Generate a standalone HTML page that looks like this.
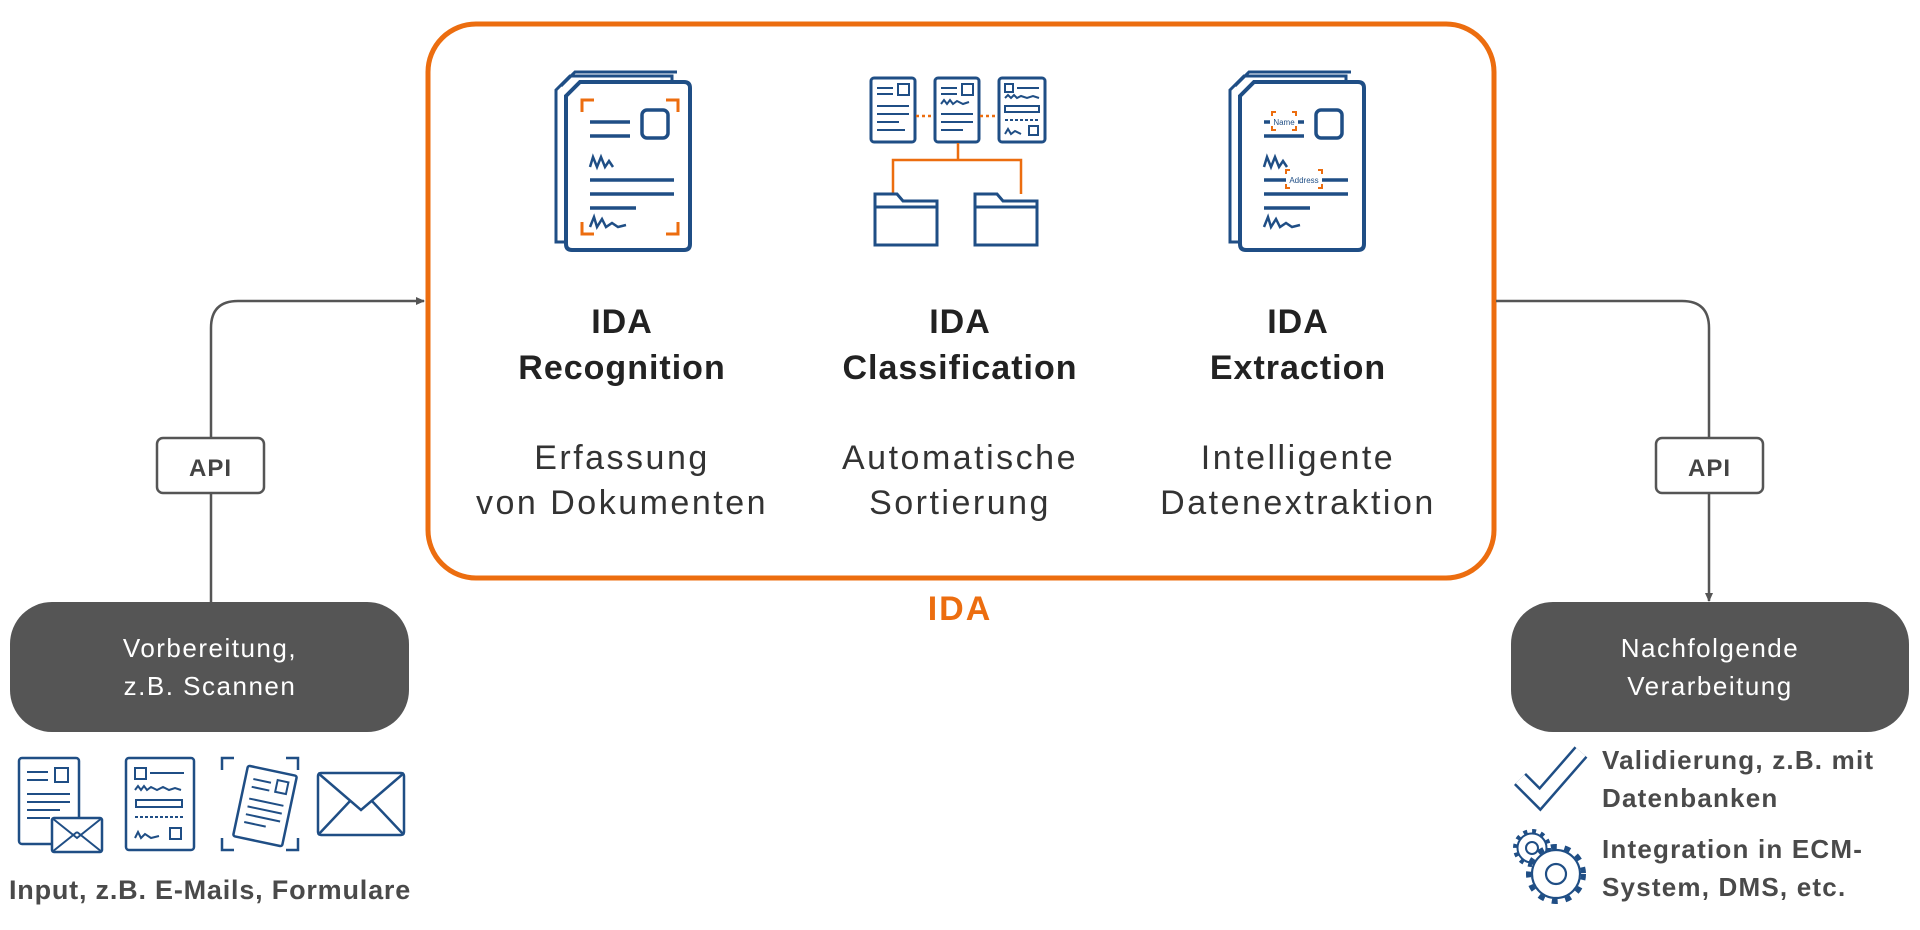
<!DOCTYPE html>
<html><head><meta charset="utf-8"><style>
html,body{margin:0;padding:0;background:#fff;width:1920px;height:930px;overflow:hidden}
svg{display:block}
text{font-family:"Liberation Sans",Arial,sans-serif}
</style></head><body>
<svg width="1920" height="930" viewBox="0 0 1920 930" xmlns="http://www.w3.org/2000/svg">
<defs>
<marker id="ar" markerWidth="10" markerHeight="10" refX="8" refY="5" orient="auto" markerUnits="userSpaceOnUse"><path d="M0,1 L9,5 L0,9 Z" fill="#555"/></marker>
<g id="doc">
 <path d="M0,18 L14,4 L116,4 L116,170 L0,170 Z" fill="#fff" stroke="#1f4e85" stroke-width="3"/>
 <path d="M5,14 L19,0 L121,0" fill="none" stroke="#1f4e85" stroke-width="3"/>
 <path d="M10,24 L24,10 L128,10 Q134,10 134,16 L134,172 Q134,178 128,178 L16,178 Q10,178 10,172 Z" fill="#fff" stroke="#1f4e85" stroke-width="4"/>
</g>
</defs>

<rect x="428" y="24" width="1066" height="554" rx="48" fill="none" stroke="#ec6d0f" stroke-width="5"/>
<text x="960" y="620" font-size="34" font-weight="bold" fill="#ec6d0f" text-anchor="middle" letter-spacing="2">IDA</text>

<g font-size="34" font-weight="bold" fill="#222" text-anchor="middle" letter-spacing="1">
<text x="622" y="333">IDA</text><text x="622" y="379">Recognition</text>
<text x="960" y="333">IDA</text><text x="960" y="379">Classification</text>
<text x="1298" y="333">IDA</text><text x="1298" y="379">Extraction</text>
</g>
<g font-size="34" fill="#333" text-anchor="middle" letter-spacing="2.5">
<text x="622" y="469">Erfassung</text><text x="622" y="514">von Dokumenten</text>
<text x="960" y="469">Automatische</text><text x="960" y="514">Sortierung</text>
<text x="1298" y="469">Intelligente</text><text x="1298" y="514">Datenextraktion</text>
</g>

<g transform="translate(556,72)">
 <use href="#doc"/>
 <g stroke="#1f4e85" stroke-width="3.5" fill="none">
  <line x1="34" y1="50" x2="74" y2="50"/><line x1="34" y1="64" x2="74" y2="64"/>
  <rect x="86" y="38" width="26" height="28" rx="5"/>
  <path d="M34,95 l3,-10 l4,10 l4,-10 l4,10 l4,-6 l4,6" stroke-width="2.5"/>
  <line x1="34" y1="108" x2="118" y2="108"/><line x1="34" y1="122" x2="118" y2="122"/>
  <line x1="34" y1="136" x2="80" y2="136"/>
  <path d="M34,155 l4,-10 l3,10 l5,-8 l4,8 l6,-4 l6,4 l8,-2" stroke-width="2.5"/>
 </g>
 <g stroke="#ec6d0f" stroke-width="3" fill="none">
  <path d="M26,40 v-12 h12"/><path d="M110,28 h12 v12"/><path d="M26,150 v12 h12"/><path d="M110,162 h12 v-12"/>
 </g>
</g>

<g transform="translate(869,76)" stroke="#1f4e85" fill="#fff">
 <rect x="2" y="2" width="44" height="64" rx="3" stroke-width="3"/>
 <rect x="66" y="2" width="44" height="64" rx="3" stroke-width="3"/>
 <rect x="130" y="2" width="46" height="64" rx="3" stroke-width="3"/>
 <g stroke-width="2" fill="none">
  <line x1="8" y1="12" x2="24" y2="12"/><line x1="8" y1="18" x2="24" y2="18"/><rect x="29" y="8" width="11" height="11"/>
  <line x1="8" y1="30" x2="40" y2="30"/><line x1="8" y1="38" x2="40" y2="38"/><line x1="8" y1="46" x2="30" y2="46"/><line x1="8" y1="54" x2="36" y2="54"/>
  <line x1="72" y1="12" x2="88" y2="12"/><line x1="72" y1="18" x2="88" y2="18"/><rect x="93" y="8" width="11" height="11"/>
  <path d="M72,28 l3,-4 l3,4 l3,-4 l3,4 l4,-3 l6,3 l6,-2"/>
  <line x1="72" y1="38" x2="104" y2="38"/><line x1="72" y1="46" x2="104" y2="46"/><line x1="72" y1="54" x2="94" y2="54"/>
  <rect x="136" y="8" width="8" height="8"/><line x1="148" y1="12" x2="170" y2="12"/>
  <path d="M136,22 l3,-3 l3,3 l3,-3 l3,3 l4,-2 l6,2 l6,-2 l6,2"/>
  <rect x="136" y="30" width="34" height="6"/>
  <line x1="136" y1="44" x2="170" y2="44" stroke-dasharray="3,2"/>
  <path d="M136,58 l3,-5 l3,5 l4,-3 l6,3"/><rect x="160" y="50" width="9" height="9"/>
 </g>
 <g stroke="#ec6d0f" stroke-width="2.5" fill="none">
  <line x1="47" y1="40" x2="65" y2="40" stroke-dasharray="3,3"/>
  <line x1="111" y1="40" x2="129" y2="40" stroke-dasharray="3,3"/>
  <path d="M89,67 v17 M24,118 v-34 h128 v34"/>
 </g>
 <path d="M6,134 v-16 h22 l6,7 h34 v44 h-62 z" stroke-width="3"/>
 <path d="M106,134 v-16 h22 l6,7 h34 v44 h-62 z" stroke-width="3"/>
 <line x1="6" y1="131" x2="68" y2="131" stroke-width="3"/>
 <line x1="106" y1="131" x2="168" y2="131" stroke-width="3"/>
</g>

<g transform="translate(1230,72)">
 <use href="#doc"/>
 <g stroke="#1f4e85" stroke-width="3.5" fill="none">
  <line x1="34" y1="50" x2="74" y2="50"/><line x1="34" y1="64" x2="74" y2="64"/>
  <rect x="86" y="38" width="26" height="28" rx="5"/>
  <path d="M34,95 l3,-10 l4,10 l4,-10 l4,10 l4,-6 l4,6" stroke-width="2.5"/>
  <line x1="34" y1="108" x2="118" y2="108"/><line x1="34" y1="122" x2="118" y2="122"/>
  <line x1="34" y1="136" x2="80" y2="136"/>
  <path d="M34,155 l4,-10 l3,10 l5,-8 l4,8 l6,-4 l6,4 l8,-2" stroke-width="2.5"/>
 </g>
 <rect x="40" y="42" width="28" height="14" fill="#fff"/>
 <rect x="56" y="100" width="36" height="14" fill="#fff"/>
 <text x="54" y="53" font-size="8" fill="#1f4e85" text-anchor="middle">Name</text>
 <text x="74" y="111" font-size="8" fill="#1f4e85" text-anchor="middle">Address</text>
 <g stroke="#ec6d0f" stroke-width="2" fill="none">
  <path d="M42,44 v-4 h4 M62,40 h4 v4 M42,54 v4 h4 M62,58 h4 v-4"/>
  <path d="M56,102 v-4 h4 M88,98 h4 v4 M56,112 v4 h4 M88,116 h4 v-4"/>
 </g>
</g>

<path d="M211,602 V328 Q211,301 238,301 H424" fill="none" stroke="#555" stroke-width="2.5" marker-end="url(#ar)"/>
<path d="M1496,301 H1682 Q1709,301 1709,328 V601" fill="none" stroke="#555" stroke-width="2.5" marker-end="url(#ar)"/>
<rect x="157" y="438" width="107" height="55" rx="6" fill="#fff" stroke="#555" stroke-width="2.5"/>
<text x="210.5" y="476" font-size="24" font-weight="bold" fill="#444" text-anchor="middle" letter-spacing="1">API</text>
<rect x="1656" y="438" width="107" height="55" rx="6" fill="#fff" stroke="#555" stroke-width="2.5"/>
<text x="1709.5" y="476" font-size="24" font-weight="bold" fill="#444" text-anchor="middle" letter-spacing="1">API</text>

<rect x="10" y="602" width="399" height="130" rx="42" fill="#555"/>
<g font-size="26" fill="#fff" text-anchor="middle" letter-spacing="1.5">
<text x="210" y="657">Vorbereitung,</text>
<text x="210" y="695">z.B. Scannen</text>
</g>
<rect x="1511" y="602" width="398" height="130" rx="42" fill="#555"/>
<g font-size="26" fill="#fff" text-anchor="middle" letter-spacing="1.5">
<text x="1710" y="657">Nachfolgende</text>
<text x="1710" y="695">Verarbeitung</text>
</g>

<g stroke="#1f4e85" stroke-width="2.5" fill="#fff">
 <rect x="19" y="758" width="60" height="86" rx="3"/>
 <g fill="none" stroke-width="2"><line x1="27" y1="772" x2="48" y2="772"/><line x1="27" y1="780" x2="48" y2="780"/><rect x="55" y="768" width="13" height="14"/><line x1="27" y1="794" x2="70" y2="794"/><line x1="27" y1="802" x2="70" y2="802"/><line x1="27" y1="810" x2="60" y2="810"/><line x1="27" y1="818" x2="50" y2="818"/></g>
 <rect x="52" y="818" width="50" height="34" rx="2"/>
 <path d="M52,818 L77,838 L102,818 M52,852 L77,832 M102,852 L77,832" fill="none" stroke-width="2"/>
 <rect x="126" y="758" width="68" height="92" rx="3"/>
 <g fill="none" stroke-width="2"><rect x="135" y="768" width="11" height="11"/><line x1="150" y1="773" x2="184" y2="773"/><path d="M135,790 l3,-4 l3,4 l3,-4 l3,4 l4,-3 l6,3 l6,-3 l6,3 l6,-2 l6,2"/><rect x="136" y="800" width="46" height="7"/><line x1="135" y1="817" x2="184" y2="817" stroke-dasharray="3,2"/><path d="M135,838 l3,-6 l3,6 l4,-4 l6,4 l8,-2"/><rect x="170" y="828" width="11" height="11"/></g>
 <g fill="none" stroke-width="2.5"><path d="M222,770 v-12 h12 M286,758 h12 v12 M222,838 v12 h12 M286,850 h12 v-12"/></g>
 <rect x="240" y="770" width="50" height="72" rx="2" transform="rotate(12 265 806)"/>
 <g fill="none" stroke-width="2" transform="rotate(12 265 806)"><line x1="248" y1="782" x2="266" y2="782"/><line x1="248" y1="790" x2="266" y2="790"/><rect x="272" y="778" width="11" height="12"/><line x1="248" y1="802" x2="283" y2="802"/><line x1="248" y1="810" x2="283" y2="810"/><line x1="248" y1="818" x2="283" y2="818"/><line x1="248" y1="826" x2="270" y2="826"/></g>
 <rect x="318" y="773" width="86" height="62" rx="3"/>
 <path d="M318,773 L361,810 L404,773 M318,835 L351,800 M404,835 L371,800" fill="none" stroke-width="2.5"/>
</g>
<text x="210" y="899" font-size="27" font-weight="bold" fill="#4a4a4a" text-anchor="middle" letter-spacing="0.8">Input, z.B. E-Mails, Formulare</text>

<polyline points="1520,779 1540,799 1581,752" fill="none" stroke="#1f4e85" stroke-width="17" stroke-linejoin="miter" stroke-linecap="butt"/>
<polyline points="1520,779 1540,799 1581,752" fill="none" stroke="#fff" stroke-width="12" stroke-linejoin="miter" stroke-linecap="butt"/>

<g fill="none" stroke="#1f4e85">
 <circle cx="1532" cy="848" r="17" stroke-width="4" stroke-dasharray="4,4.9"/>
 <circle cx="1532" cy="848" r="14.5" stroke-width="2" fill="#fff"/>
 <circle cx="1532" cy="848" r="6" stroke-width="2"/>
 <circle cx="1556" cy="874" r="27.5" stroke-width="5" stroke-dasharray="6,7.8"/>
 <circle cx="1556" cy="874" r="24" stroke-width="2.2" fill="#fff"/>
 <circle cx="1556" cy="874" r="10" stroke-width="2.2"/>
</g>
<g font-size="26" font-weight="bold" fill="#4a4a4a" letter-spacing="1.2">
<text x="1602" y="769">Validierung, z.B. mit</text>
<text x="1602" y="807">Datenbanken</text>
<text x="1602" y="858">Integration in ECM-</text>
<text x="1602" y="896">System, DMS, etc.</text>
</g>
</svg>
</body></html>
